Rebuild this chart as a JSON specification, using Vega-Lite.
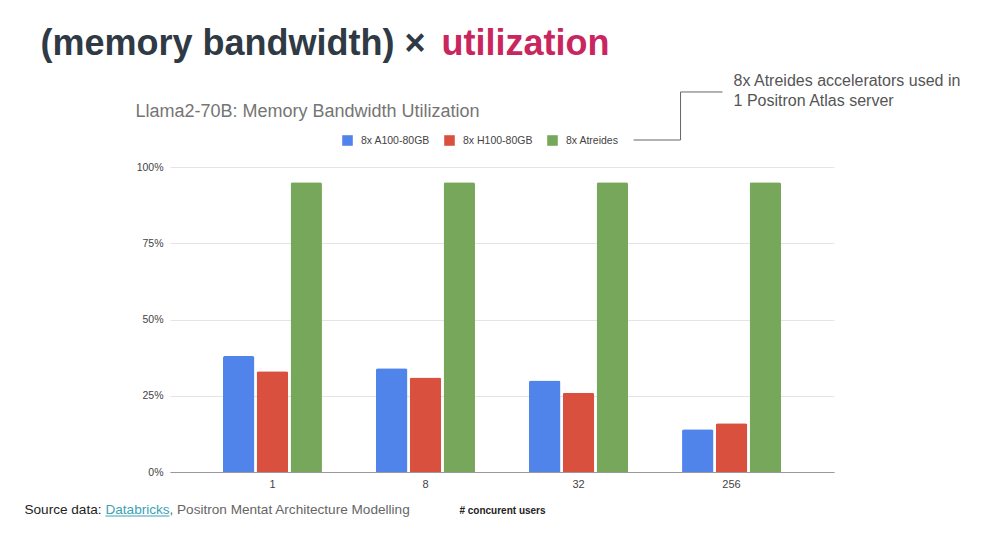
{
  "$schema": "https://vega.github.io/schema/vega-lite/v6.json",
  "autosize": {"type": "none"},
  "padding": {"left": 170, "top": 167, "right": 166, "bottom": 72},
  "width": 664,
  "height": 305,
  "background": "white",
  "config": {
    "view": {"stroke": null},
    "font": "Liberation Sans, Arial, sans-serif",
    "text": {"font": "Liberation Sans, Arial, sans-serif"}
  },
  "layer": [
    {
      "data": {
        "values": [
          {"users": "1", "series": "8x A100-80GB", "value": 0.38},
          {"users": "1", "series": "8x H100-80GB", "value": 0.33},
          {"users": "1", "series": "8x Atreides", "value": 0.95},
          {"users": "8", "series": "8x A100-80GB", "value": 0.34},
          {"users": "8", "series": "8x H100-80GB", "value": 0.31},
          {"users": "8", "series": "8x Atreides", "value": 0.95},
          {"users": "32", "series": "8x A100-80GB", "value": 0.30},
          {"users": "32", "series": "8x H100-80GB", "value": 0.26},
          {"users": "32", "series": "8x Atreides", "value": 0.95},
          {"users": "256", "series": "8x A100-80GB", "value": 0.14},
          {"users": "256", "series": "8x H100-80GB", "value": 0.16},
          {"users": "256", "series": "8x Atreides", "value": 0.95}
        ]
      },
      "mark": {"type": "bar", "cornerRadiusTopLeft": 2, "cornerRadiusTopRight": 2},
      "encoding": {
        "x": {
          "field": "users", "type": "nominal", "sort": ["1", "8", "32", "256"],
          "scale": {"paddingInner": 0.353, "paddingOuter": 0.346},
          "axis": {
            "title": "# concurent users", "titleFontSize": 10, "titleFontWeight": "bold",
            "titleColor": "#222222", "titleY": 38, "titleBaseline": "middle",
            "labelAngle": 0, "labelFontSize": 11, "labelColor": "#444444", "labelPadding": 6,
            "ticks": false, "domainColor": "#999999", "domainWidth": 1.2, "grid": false
          }
        },
        "xOffset": {
          "field": "series", "type": "nominal",
          "sort": ["8x A100-80GB", "8x H100-80GB", "8x Atreides"],
          "scale": {"paddingInner": 0.07, "paddingOuter": 0}
        },
        "y": {
          "field": "value", "type": "quantitative",
          "scale": {"domain": [0, 1], "nice": false},
          "axis": {
            "title": null, "values": [0, 0.25, 0.5, 0.75, 1], "format": ".0%",
            "labelFontSize": 10.5, "labelColor": "#444444", "labelPadding": 7,
            "ticks": false, "domain": false, "gridColor": "#e4e4e4", "gridWidth": 1
          }
        },
        "color": {
          "field": "series", "type": "nominal",
          "sort": ["8x A100-80GB", "8x H100-80GB", "8x Atreides"],
          "scale": {
            "domain": ["8x A100-80GB", "8x H100-80GB", "8x Atreides"],
            "range": ["#5084ea", "#d9503f", "#77a75a"]
          },
          "legend": {
            "title": null, "orient": "none", "direction": "horizontal",
            "legendX": 172, "legendY": -32,
            "symbolType": "square", "symbolSize": 112, "symbolStrokeWidth": 0,
            "labelFontSize": 10.5, "labelColor": "#444444", "labelOffset": 8,
            "columnPadding": 14
          }
        }
      }
    },
    {
      "data": {"values": [{"t": "(memory bandwidth) ×"}]},
      "mark": {"type": "text", "align": "left", "baseline": "alphabetic", "fontSize": 36, "fontWeight": "bold", "color": "#2f3a44", "dx": -232},
      "encoding": {"text": {"field": "t"}, "x": {"datum": "1"}, "y": {"datum": 1.367}}
    },
    {
      "data": {"values": [{"t": "utilization"}]},
      "mark": {"type": "text", "align": "left", "baseline": "alphabetic", "fontSize": 36, "fontWeight": "bold", "color": "#c9265f", "dx": 169},
      "encoding": {"text": {"field": "t"}, "x": {"datum": "1"}, "y": {"datum": 1.367}}
    },
    {
      "data": {"values": [{"t": "Llama2-70B: Memory Bandwidth Utilization"}]},
      "mark": {"type": "text", "align": "left", "baseline": "alphabetic", "fontSize": 18, "color": "#757575", "dx": -137},
      "encoding": {"text": {"field": "t"}, "x": {"datum": "1"}, "y": {"datum": 1.164}}
    },
    {
      "data": {"values": [{"t": "8x Atreides accelerators used in", "v": 1.2656}, {"t": "1 Positron Atlas server", "v": 1.2}]},
      "mark": {"type": "text", "align": "left", "baseline": "alphabetic", "fontSize": 16, "color": "#555555", "dx": 2},
      "encoding": {"text": {"field": "t"}, "x": {"datum": "256"}, "y": {"field": "v", "type": "quantitative"}}
    },
    {
      "data": {"values": [{"a": 1}]},
      "mark": {"type": "rule", "color": "#666666", "strokeWidth": 1, "xOffset": -98, "x2Offset": -51},
      "encoding": {"x": {"datum": "256"}, "x2": {"datum": "256"}, "y": {"datum": 1.0885}}
    },
    {
      "data": {"values": [{"a": 1}]},
      "mark": {"type": "rule", "color": "#666666", "strokeWidth": 1, "xOffset": -51},
      "encoding": {"x": {"datum": "256"}, "y": {"datum": 1.0885}, "y2": {"datum": 1.246}}
    },
    {
      "data": {"values": [{"a": 1}]},
      "mark": {"type": "rule", "color": "#666666", "strokeWidth": 1, "xOffset": -51, "x2Offset": -9},
      "encoding": {"x": {"datum": "256"}, "x2": {"datum": "256"}, "y": {"datum": 1.246}}
    },
    {
      "data": {"values": [{"t": "Source data: "}]},
      "mark": {"type": "text", "align": "left", "baseline": "alphabetic", "fontSize": 13.6, "color": "#222222", "dx": -248},
      "encoding": {"text": {"field": "t"}, "x": {"datum": "1"}, "y": {"datum": -0.1377}}
    },
    {
      "data": {"values": [{"t": "Databricks"}]},
      "mark": {"type": "text", "align": "left", "baseline": "alphabetic", "fontSize": 13.6, "color": "#3aa2b6", "dx": -167},
      "encoding": {"text": {"field": "t"}, "x": {"datum": "1"}, "y": {"datum": -0.1377}}
    },
    {
      "data": {"values": [{"a": 1}]},
      "mark": {"type": "rule", "color": "#3aa2b6", "strokeWidth": 1, "xOffset": -167, "x2Offset": -103},
      "encoding": {"x": {"datum": "1"}, "x2": {"datum": "1"}, "y": {"datum": -0.1443}}
    },
    {
      "data": {"values": [{"t": ", Positron Mentat Architecture Modelling"}]},
      "mark": {"type": "text", "align": "left", "baseline": "alphabetic", "fontSize": 13.6, "color": "#666666", "dx": -103},
      "encoding": {"text": {"field": "t"}, "x": {"datum": "1"}, "y": {"datum": -0.1377}}
    }
  ]
}
